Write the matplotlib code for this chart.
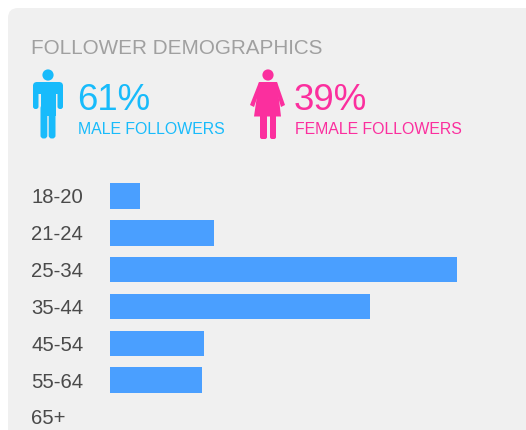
import matplotlib
matplotlib.use("Agg")
import matplotlib.pyplot as plt
from matplotlib.patches import Circle, FancyBboxPatch, Polygon, Rectangle

plt.rcParams['font.family'] = ['Liberation Sans', 'DejaVu Sans']

# %% Data
age_groups = ['18-20', '21-24', '25-34', '35-44', '45-54', '55-64', '65+']
age_share = [3.2, 11.2, 37.4, 28.0, 10.1, 9.9, 0.0]
male_share = 61
female_share = 39

W, H = 526, 430
CARD = '#f0f0f0'
BLUE = '#4a9fff'
CYAN = '#18bbfb'
PINK = '#fb2f9e'
GREY = '#a0a0a0'
DARK = '#4a4a4a'

fig = plt.figure(figsize=(W/100, H/100), dpi=100, facecolor='white')

# %% Overlay in pixel coordinates for card, header and icons
bg = fig.add_axes([0, 0, 1, 1])
bg.set_xlim(0, W)
bg.set_ylim(H, 0)
bg.axis('off')


def rounded(x0, y0, x1, y1, r, color):
    bg.add_patch(FancyBboxPatch((x0+r, y0+r), x1-x0-2*r, y1-y0-2*r,
                                boxstyle='round,pad=%g,rounding_size=%g' % (r, r),
                                fc=color, ec='none'))


rounded(8, 8, 560, 470, 10, CARD)

bg.text(31, 48, 'FOLLOWER DEMOGRAPHICS', color=GREY, fontsize=14.9, va='center', ha='left')

# male icon
bg.add_patch(Circle((48, 75), 5.6, fc=CYAN, ec='none'))
rounded(33, 82, 63, 94, 4, CYAN)
rounded(33, 84, 38.5, 109, 2.5, CYAN)
rounded(57.5, 84, 63, 109, 2.5, CYAN)
bg.add_patch(Rectangle((40.5, 88), 15, 28, fc=CYAN, ec='none'))
rounded(40.5, 105, 47.3, 138.5, 3, CYAN)
rounded(48.7, 105, 55.5, 138.5, 3, CYAN)

# female icon
bg.add_patch(Circle((268, 75), 5.6, fc=PINK, ec='none'))
bg.add_patch(Polygon([(259, 82), (277, 82), (281, 116.5), (254, 116.5)], fc=PINK, ec='none'))
bg.add_patch(Polygon([(259, 82), (262, 84), (254, 107), (250, 105)], fc=PINK, ec='none'))
bg.add_patch(Polygon([(277, 82), (274, 84), (281, 107), (285, 105)], fc=PINK, ec='none'))
rounded(260, 112, 267, 139, 2, PINK)
rounded(270, 112, 276, 139, 2, PINK)

bg.text(77, 100, '%d%%' % male_share, color=CYAN, fontsize=26.4, va='center', ha='left')
bg.text(78, 130, 'MALE FOLLOWERS', color=CYAN, fontsize=11.4, va='center', ha='left')
bg.text(294, 100, '%d%%' % female_share, color=PINK, fontsize=26.4, va='center', ha='left')
bg.text(295, 130, 'FEMALE FOLLOWERS', color=PINK, fontsize=11.4, va='center', ha='left')

# %% Bars
px_per_pct = 347/37.4
y_step = (417-196)/6
ax = fig.add_axes([110/W, 0, (W-110)/W, 1])
ax.patch.set_alpha(0)
ax.barh(range(len(age_groups)), age_share, height=25.5/y_step, color=BLUE)
ax.set_xlim(0, (W-110)/px_per_pct)
ax.set_ylim((H-196)/y_step, -196/y_step)
for s in ax.spines.values():
    s.set_visible(False)
ax.set_xticks([])
ax.set_yticks(range(len(age_groups)))
ax.set_yticklabels(age_groups, ha='left', fontsize=14.6, color=DARK)
ax.tick_params(axis='y', length=0, pad=79*0.72)

fig.savefig('out.png', dpi=100)
